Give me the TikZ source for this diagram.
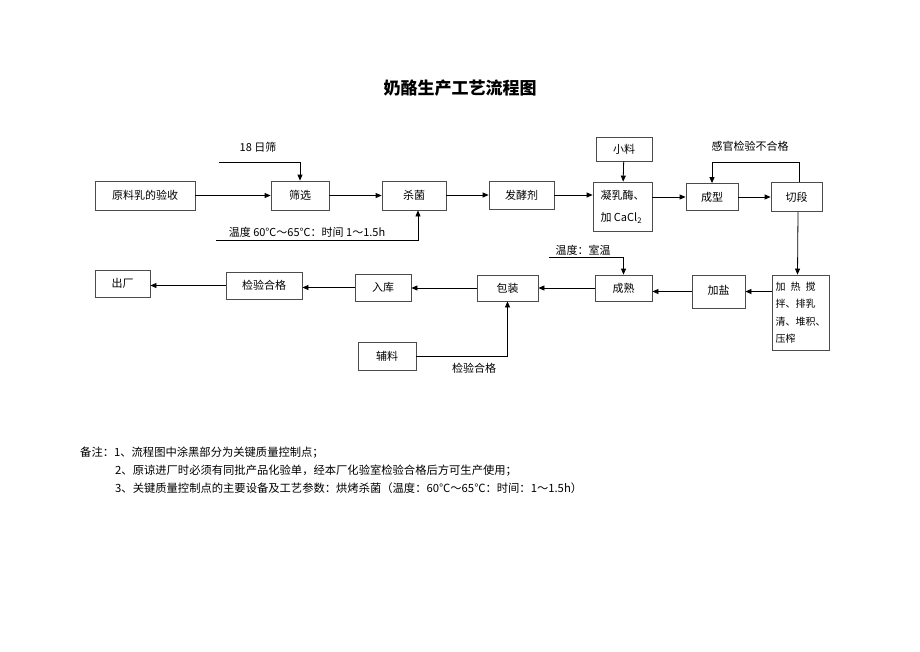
\documentclass[tikz,border=0pt]{standalone}
\usepackage{fontspec}
\setmainfont{Noto Sans CJK SC}
\usetikzlibrary{arrows.meta}
\begin{document}
\begin{tikzpicture}[x=1pt,y=-1pt,
  box/.style={draw=black!70,line width=0.8pt,inner sep=0pt,font=\fontsize{11}{13}\selectfont,anchor=center},
  conn/.style={line width=0.8pt,-{Triangle[length=6pt,width=5pt]}},
  plain/.style={line width=0.8pt},
  lbl/.style={font=\fontsize{11}{13}\selectfont,inner sep=0pt},
  note/.style={font=\fontsize{11.3}{13}\selectfont,inner sep=0pt,anchor=west}]
\useasboundingbox (0,0) rectangle (920,651);
% title
\node[inner sep=0pt,font=\fontsize{17}{20}\selectfont\bfseries] (title) at (460,88) {奶酪生产工艺流程图};
% top row
\node[box,minimum width=100pt,minimum height=29pt] (n1) at (145,195.5) {原料乳的验收};
\node[box,minimum width=58pt,minimum height=29pt] (n2) at (300,195.5) {筛选};
\node[box,minimum width=64pt,minimum height=29pt] (n3) at (414,195.5) {杀菌};
\node[box,minimum width=65pt,minimum height=28pt] (n4) at (521.5,195) {发酵剂};
\node[box,minimum width=59pt,minimum height=49pt,align=left,font=\fontsize{11}{22}\selectfont] (n5) at (622.5,206.5) {凝乳酶、\\加 CaCl\textsubscript{2}};
\node[box,minimum width=56pt,minimum height=24pt] (xl) at (624,149) {小料};
\node[box,minimum width=52pt,minimum height=27pt] (n6) at (712,197) {成型};
\node[box,minimum width=51pt,minimum height=29pt] (n7) at (796.5,197) {切段};
% bottom row
\node[box,minimum width=57pt,minimum height=75pt,inner xsep=3.5pt,align=left,font=\fontsize{10}{17.5}\selectfont] (n8) at (800.5,312.5) {\makebox[40pt][s]{加\hfill 热\hfill 搅}\\拌、排乳\\清、堆积、\\压榨};
\node[box,minimum width=53pt,minimum height=33pt] (n9) at (718.5,291.5) {\raisebox{4pt}{加盐}};
\node[box,minimum width=57pt,minimum height=26pt] (n10) at (623.5,288) {成熟};
\node[box,minimum width=61pt,minimum height=26pt] (n11) at (507.5,288) {包装};
\node[box,minimum width=56pt,minimum height=27pt] (n12) at (383,287.5) {入库};
\node[box,minimum width=76pt,minimum height=27pt] (n13) at (264,285.5) {检验合格};
\node[box,minimum width=55pt,minimum height=27pt] (n14) at (122.5,283.5) {出厂};
\node[box,minimum width=58pt,minimum height=28pt] (fl) at (387,356) {辅料};
% labels
\node[lbl] (l1) at (258,147) {18 日筛};
\node[lbl] (l2) at (307,232) {温度 60℃～65℃：时间 1～1.5h};
\node[lbl] (l3) at (750,146) {感官检验不合格};
\node[lbl] (l4) at (583,250) {温度：室温};
\node[lbl] (l5) at (474,368) {检验合格};
% coordinates
\coordinate (c1) at (219,162);
\coordinate (c2) at (216,240);
\coordinate (c3) at (549,257);
% main flow
\draw[conn] (n1) -- (n2);
\draw[conn] (n2) -- (n3);
\draw[conn] (n3.east |- n4.west) -- (n4.west);
\draw[conn] (n4.east) -- (n4.east -| n5.west);
\draw[conn] (n6.west -| n5.east) -- (n6.west);
\draw[conn] (n6) -- (n7);
\draw[conn] (xl) -- (n5);
\draw[conn] ([xshift=2.5pt]n7.north) -- ++(0,-20) -| (n6.north);
\draw[conn] ([xshift=1.5pt]n7.south) -- ([xshift=-3pt]n8.north);
\draw[conn] (n9.east -| n8.west) -- (n9.east);
\draw[conn] (n9.west) -- (n9.west -| n10.east);
\draw[conn] (n10) -- (n11);
\draw[conn] (n11) -- (n11 -| n12.east);
\draw[conn] (n12.west) -- (n12.west -| n13.east);
\draw[conn] (n13.west) -- (n13.west -| n14.east);
% side inputs
\draw[conn] (c1) -| (n2.north);
\draw[conn] (c2) -| ([xshift=4pt]n3.south);
\draw[conn] (c3) -| (n10.north);
\draw[conn] (fl.east) -| (n11.south);
% notes
\node[note] (t1) at (80,453) {备注：1、流程图中涂黑部分为关键质量控制点；};
\node[note] (t2) at (115,471) {2、原谅进厂时必须有同批产品化验单，经本厂化验室检验合格后方可生产使用；};
\node[note] (t3) at (115,488) {3、关键质量控制点的主要设备及工艺参数：烘烤杀菌（温度：60℃～65℃：时间：1～1.5h）};
\end{tikzpicture}
\end{document}
